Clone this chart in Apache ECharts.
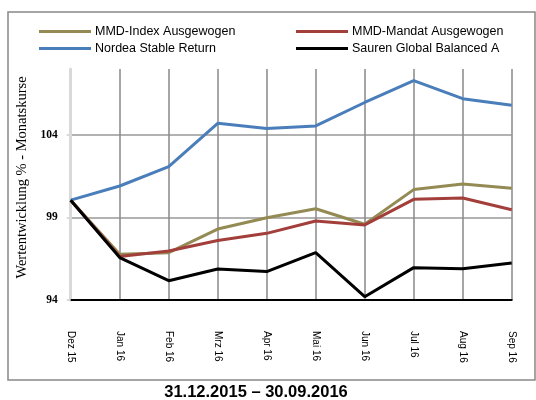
<!DOCTYPE html>
<html>
<head>
<meta charset="utf-8">
<script src="https://cdn.jsdelivr.net/npm/echarts@6/dist/echarts.min.js"></script>
<style>
html,body{margin:0;padding:0;background:#fff;}
#chart{width:536px;height:400px;}
</style>
</head>
<body>
<div id="chart"></div>
<script>
const categories = ['Dez 15','Jan 16','Feb 16','Mrz 16','Apr 16','Mai 16','Jun 16','Jul 16','Aug 16','Sep 16'];
const mmdIndex  = [100.05, 96.77, 96.87, 98.30, 98.99, 99.53, 98.59, 100.69, 101.03, 100.77];
const mmdMandat = [100.05, 96.63, 96.97, 97.61, 98.04, 98.79, 98.55, 100.10, 100.18, 99.47];
const nordea    = [100.05, 100.91, 102.08, 104.71, 104.40, 104.55, 105.97, 107.29, 106.20, 105.80];
const sauren    = [100.05, 96.57, 95.17, 95.88, 95.72, 96.87, 94.20, 95.96, 95.90, 96.24];
const yTickLabels = [94, 99, 104];
const seriesNames = ['MMD-Index Ausgewogen','MMD-Mandat Ausgewogen','Nordea Stable Return','Sauren Global Balanced A'];
const colors = ['#948A54','#A33F3B','#4A7EBB','#000000'];
const yMin = 94, yMax = 108;

const chart = echarts.init(document.getElementById('chart'), null, {renderer:'canvas'});
const legendBase = {
  icon: 'rect', itemWidth: 52, itemHeight: 3, itemGap: 0, itemStyle:{borderWidth:0},
  textStyle: {fontFamily:'Liberation Sans', fontSize: 12.5, color:'#000', padding:[0,0,0,-1]},
  selectedMode: false, padding: 0
};
chart.setOption({
  animation: false,
  backgroundColor: '#fff',
  color: colors,
  graphic: [
    {type:'rect', shape:{x:8, y:12, width:527, height:368}, style:{fill:'none', stroke:'#888', lineWidth:1.5}, silent:true},
    {type:'text', x:256, y:392, style:{text:'31.12.2015 – 30.09.2016', fontFamily:'Liberation Sans', fontWeight:'bold', fontSize:16.5, fill:'#000', align:'center', verticalAlign:'middle'}}
  ],
  legend: [
    Object.assign({}, legendBase, {left: 39, top: 25, data:[seriesNames[0]]}),
    Object.assign({}, legendBase, {left: 296, top: 25, data:[seriesNames[1]]}),
    Object.assign({}, legendBase, {left: 39, top: 42, data:[seriesNames[2]]}),
    Object.assign({}, legendBase, {left: 296, top: 42, data:[seriesNames[3]]})
  ],
  grid: {left: 70.7, right: 24.3, top: 69, bottom: 100, containLabel: false},
  xAxis: {
    type: 'category', data: categories, boundaryGap: false,
    axisLine: {show: true, lineStyle: {color:'#000', width: 2}},
    axisTick: {show: false},
    splitLine: {show: true, lineStyle: {color:'#888', width: 1.5}},
    axisLabel: {rotate: -90, margin: 31, fontFamily:'Liberation Sans', fontSize: 10, color:'#000'}
  },
  yAxis: {
    type:'value', min: yMin, max: yMax,
    name: 'Wertentwicklung % - Monatskurse', nameLocation: 'middle', nameGap: 38, nameRotate: 90,
    nameTextStyle: {fontFamily:'Liberation Serif', fontSize: 14.5, color:'#000', padding:[0,0,0,14]},
    axisLine: {show: true, onZero: false, lineStyle: {color:'#d9d9d9', width: 3}},
    axisTick: {show: true, length: 4, customValues: yTickLabels, lineStyle: {color:'#d9d9d9', width: 2}},
    splitLine: {show: true, lineStyle: {color:'#999', width: 1.5}},
    axisLabel: {margin: 13, customValues: yTickLabels, fontFamily:'Liberation Serif', fontWeight:'bold', fontSize: 11.5, color:'#000'}
  },
  series: [
    {name: seriesNames[0], data: mmdIndex},
    {name: seriesNames[1], data: mmdMandat},
    {name: seriesNames[2], data: nordea},
    {name: seriesNames[3], data: sauren}
  ].map((s,i) => Object.assign(s, {type:'line', symbol:'none', lineStyle:{width:3, color: colors[i]}, itemStyle:{color: colors[i]}, z: 3}))
});
</script>
</body>
</html>
